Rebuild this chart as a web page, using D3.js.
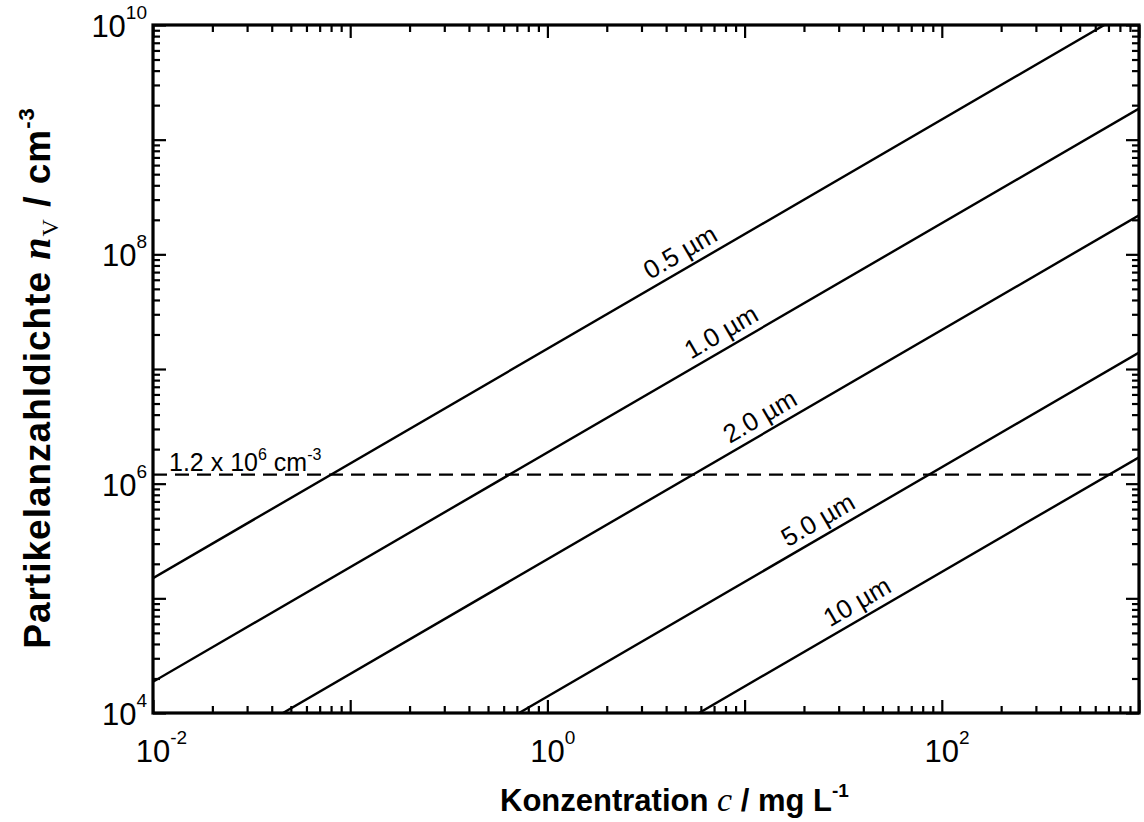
<!DOCTYPE html>
<html>
<head>
<meta charset="utf-8">
<script src="https://cdn.jsdelivr.net/npm/d3@7"></script>
<style>
  html, body { margin: 0; padding: 0; background: #fff; }
  svg { display: block; }
  text { fill: #000; }
</style>
</head>
<body>
<svg id="chart" width="1144" height="822"></svg>
<script>
// ---------- data ----------
const seriesNames = ["0.5 µm", "1.0 µm", "2.0 µm", "5.0 µm", "10 µm"];
// start and end points of each straight line (c in mg/L, n in cm^-3)
const cStart = [0.01, 0.01, 0.0456, 0.718, 5.87];
const nStart = [1.5e5, 1.87e4, 1e4, 1e4, 1e4];
const cEnd   = [667, 1000, 1000, 1000, 1000];
const nEnd   = [1e10, 1.87e9, 2.19e8, 1.39e7, 1.70e6];
// concentration where each line label sits
const labelC = [5.2, 8.4, 13.2, 26, 41];

const refLevel = 1.2e6;           // dashed reference line
const refLabelMantissa = "1.2 x 10";
const refLabelExp = "6";

const xMajor = [1e-2, 1e-1, 1e0, 1e1, 1e2, 1e3];
const xLabelExp = [-2, 0, 2];
const yMajor = [1e4, 1e5, 1e6, 1e7, 1e8, 1e9, 1e10];
const yLabelExp = [4, 6, 8, 10];
const minorMult = [2, 3, 4, 5, 6, 7, 8, 9];

// ---------- layout ----------
const L = 153, R = 1139, T = 25, B = 713;
const sans = "'Liberation Sans', Arial, Helvetica, sans-serif";
const serif = "'Liberation Serif', 'Times New Roman', serif";

const svg = d3.select("#chart");
const x = d3.scaleLog().domain([1e-2, 1e3]).range([L, R]);
const y = d3.scaleLog().domain([1e4, 1e10]).range([B, T]);

function minors(majors) {
  const out = [];
  for (let i = 0; i < majors.length - 1; i++)
    minorMult.forEach(m => out.push(majors[i] * m));
  return out;
}
const xMinor = minors(xMajor), yMinor = minors(yMajor);

// ---------- ticks (inward, on all four sides) ----------
function tickAxis(axisFn, scale, values, size, transform) {
  const g = svg.append("g").attr("transform", transform)
    .call(axisFn(scale).tickValues(values).tickSizeInner(-size).tickSizeOuter(0).tickFormat(""));
  g.select(".domain").remove();
  g.selectAll("line").attr("stroke", "#000").attr("stroke-width", 2.2);
  return g;
}
tickAxis(d3.axisBottom, x, xMajor, 13, `translate(0,${B})`);
tickAxis(d3.axisBottom, x, xMinor, 7, `translate(0,${B})`);
tickAxis(d3.axisTop, x, xMajor, 13, `translate(0,${T})`);
tickAxis(d3.axisTop, x, xMinor, 7, `translate(0,${T})`);
tickAxis(d3.axisLeft, y, yMajor, 13, `translate(${L},0)`);
tickAxis(d3.axisLeft, y, yMinor, 7, `translate(${L},0)`);
tickAxis(d3.axisRight, y, yMajor, 13, `translate(${R},0)`);
tickAxis(d3.axisRight, y, yMinor, 7, `translate(${R},0)`);

// ---------- clip ----------
svg.append("clipPath").attr("id", "plotclip")
  .append("rect").attr("x", L).attr("y", T).attr("width", R - L).attr("height", B - T);

const plot = svg.append("g").attr("clip-path", "url(#plotclip)");

// dashed reference line
plot.append("line")
  .attr("x1", x(1e-2)).attr("x2", x(1e3))
  .attr("y1", y(refLevel)).attr("y2", y(refLevel))
  .attr("stroke", "#000").attr("stroke-width", 2.3)
  .attr("stroke-dasharray", "14,8");

// series lines
const lineGen = d3.line().x(d => x(d[0])).y(d => y(d[1]));
seriesNames.forEach((name, i) => {
  plot.append("path")
    .datum([[cStart[i], nStart[i]], [cEnd[i], nEnd[i]]])
    .attr("d", lineGen)
    .attr("fill", "none").attr("stroke", "#000").attr("stroke-width", 2.4);
});

// frame
svg.append("rect").attr("x", L).attr("y", T).attr("width", R - L).attr("height", B - T)
  .attr("fill", "none").attr("stroke", "#000").attr("stroke-width", 3.2);

// line labels
seriesNames.forEach((name, i) => {
  const lx0 = Math.log10(cStart[i]), ly0 = Math.log10(nStart[i]);
  const lx1 = Math.log10(cEnd[i]), ly1 = Math.log10(nEnd[i]);
  const t = (Math.log10(labelC[i]) - lx0) / (lx1 - lx0);
  const nAt = Math.pow(10, ly0 + t * (ly1 - ly0));
  const px = x(labelC[i]), py = y(nAt);
  const ang = Math.atan2(y(nEnd[i]) - y(nStart[i]), x(cEnd[i]) - x(cStart[i])) * 180 / Math.PI;
  svg.append("text")
    .attr("transform", `translate(${px},${py}) rotate(${ang})`)
    .attr("text-anchor", "middle").attr("dy", -8)
    .style("font-family", sans).style("font-size", "26px")
    .text(name);
});

// reference annotation
const ann = svg.append("text")
  .attr("x", 169).attr("y", y(refLevel) - 4)
  .style("font-family", sans).style("font-size", "25px");
ann.append("tspan").text(refLabelMantissa);
ann.append("tspan").attr("dy", -11).style("font-size", "16px").text(refLabelExp);
ann.append("tspan").attr("dy", 11).text(" cm");
ann.append("tspan").attr("dy", -11).style("font-size", "16px").text("-3");

// ---------- tick labels ----------
const tmp = svg.append("text").style("font-family", sans).style("font-size", "31px").text("10");
const tenW = tmp.node().getComputedTextLength();
tmp.remove();

xLabelExp.forEach(e => {
  const t = svg.append("text")
    .attr("x", x(Math.pow(10, e)) - tenW / 2).attr("y", 762)
    .style("font-family", sans).style("font-size", "31px");
  t.append("tspan").text("10");
  t.append("tspan").attr("dy", -18).style("font-size", "19px").text(String(e));
});

yLabelExp.forEach(e => {
  const yy = y(Math.pow(10, e));
  const t = svg.append("text")
    .attr("x", L - 6).attr("y", yy + 12)
    .attr("text-anchor", "end")
    .style("font-family", sans).style("font-size", "31px");
  t.append("tspan").text("10");
  t.append("tspan").attr("dy", -18).style("font-size", "19px").text(String(e));
});

// ---------- axis titles ----------
const xt = svg.append("text")
  .attr("x", 500).attr("y", 811)
  .style("font-family", sans).style("font-size", "31px").style("font-weight", "bold");
xt.append("tspan").text("Konzentration ");
xt.append("tspan").style("font-family", serif).style("font-style", "italic").style("font-weight", "normal").style("font-size", "34px").text("c");
xt.append("tspan").text(" /  mg L");
xt.append("tspan").attr("dy", -14).style("font-size", "19px").text("-1");

const yt = svg.append("text")
  .attr("transform", `translate(50,378) rotate(-90)`)
  .attr("text-anchor", "middle")
  .style("font-family", sans).style("font-size", "37px").style("font-weight", "bold")
  .style("letter-spacing", "1px");
yt.append("tspan").text("Partikelanzahldichte ");
yt.append("tspan").style("font-family", serif).style("font-style", "italic").style("font-size", "40px").text("n");
yt.append("tspan").attr("dy", 8).style("font-family", serif).style("font-weight", "normal").style("font-size", "24px").text("V");
yt.append("tspan").attr("dy", -8).text("  /  cm");
yt.append("tspan").attr("dy", -16).style("font-size", "22px").text("-3");
</script>
</body>
</html>
